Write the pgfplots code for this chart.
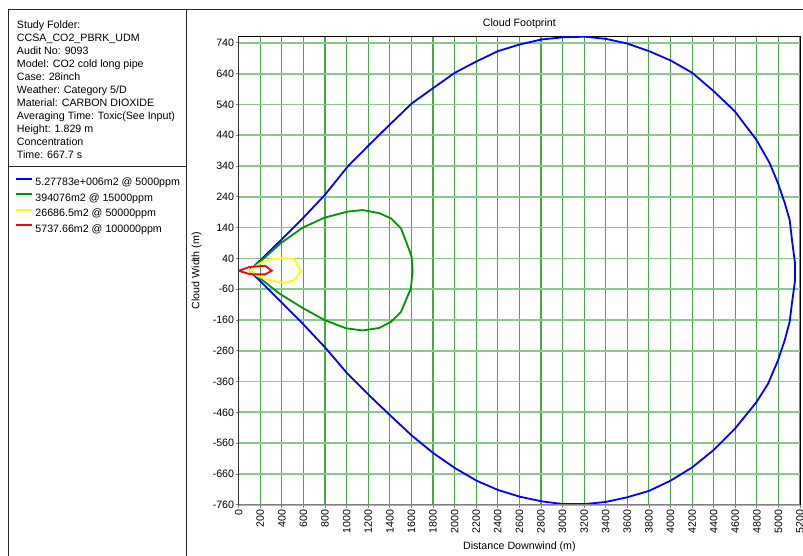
\documentclass[border=0pt]{standalone}
\usepackage{fontspec}
\setmainfont{Liberation Sans}
\usepackage{pgfplots}
\pgfplotsset{compat=1.18}
\definecolor{gridx}{RGB}{70,170,70}
\definecolor{gridy}{RGB}{140,200,140}
\definecolor{cgreen}{RGB}{0,150,0}
\definecolor{cyellow}{RGB}{255,255,0}
\begin{document}
\fontsize{8}{9.75}\selectfont
\begin{tikzpicture}[x=0.75pt,y=-0.75pt,font=\fontsize{8}{9.75}\selectfont]
\path[use as bounding box] (0,0) rectangle (803,556);
\draw[line width=0.75pt, black!85] (8,10) -- (803,10) (8,10) -- (8,556) (186,10) -- (186,556) (8,167) -- (186,167);
\foreach \t [count=\i from 0] in {{Study Folder:},{CCSA\_CO2\_PBRK\_UDM},{Audit No: 9093},{Model: CO2 cold long pipe},{Case: 28inch},{Weather: Category 5/D},{Material: CARBON DIOXIDE},{Averaging Time: Toxic(See Input)},{Height: 1.829 m},{Concentration},{Time: 667.7 s}}
  \node[anchor=base west, inner sep=0pt] at (16.7, 28.8+13*\i) {\t};
\begin{axis}[
  at={(179.03pt,-378.53pt)}, anchor=south west,
  scale only axis, width=421pt, height=351pt,
  xmin=0, xmax=5200, ymin=-760, ymax=760,
  xtick={0,200,...,5200}, ytick={-760,-660,...,740},
  grid=major,
  x grid style={gridx, line width=0.85pt},
  y grid style={gridy, line width=1.3pt},
  axis line style={black, line width=0.75pt},
  tick style={gray, line width=0.6pt},
  major tick length=2.25pt, tick align=outside, tick pos=left,
  /pgf/number format/1000 sep={},
  /pgf/number format/assume math mode=true,
  ticklabel style={font=\fontsize{8}{9}\selectfont},
  xticklabel style={rotate=90, anchor=east, inner sep=1pt},
  yticklabel style={inner sep=1pt},
  title={Cloud Footprint},
  title style={at={(axis description cs:0.5,1.0314)}, anchor=center, yshift=-7.5pt, font=\fontsize{8}{9}\selectfont},
  xlabel={Distance Downwind (m)},
  xlabel style={at={(axis description cs:0.5,-0.0897)}, anchor=center, font=\fontsize{8}{9}\selectfont},
  ylabel={Cloud Width (m)},
  ylabel style={at={(axis description cs:-0.0748,0.5)}, anchor=center, rotate=0, font=\fontsize{8}{9}\selectfont},
  legend style={at={(axis description cs:-0.3985,0.6992)}, anchor=north west, draw=none, fill=none,
    inner sep=0pt, outer sep=0pt, row sep=3.7pt, font=\fontsize{8}{9}\selectfont,
    nodes={inner xsep=0pt, inner ysep=0pt, text height=6.2pt, text depth=1.7pt},
    /tikz/every odd column/.append style={column sep=1.8pt}},
  legend cell align=left,
  legend image code/.code={\draw[#1, line width=1.5pt] (0pt,2.8pt) -- (12pt,2.8pt);},
]
\addplot[color=blue, line width=1.35pt] coordinates {
(100,0) (200,34) (376,94) (593,170) (793,244) (1009,338) (1209,409) (1404,476) (1602,543) (1805,594) (2003,643) (2204,680) (2401,713) (2605,735) (2806,751) (3006,758) (3206,760) (3401,753) (3598,738) (3802,713) (4000,683) (4200,643) (4394,585) (4595,518) (4796,425) (4919,349) (4996,284) (5058,220) (5104,165) (5129,89) (5154,24) (5154,-31) (5129,-96) (5104,-166) (5058,-226) (4996,-291) (4904,-367) (4796,-427) (4595,-514) (4394,-584) (4200,-639) (4000,-682) (3802,-715) (3598,-736) (3401,-751) (3206,-758) (3006,-758) (2806,-749) (2605,-734) (2401,-712) (2204,-682) (2003,-641) (1805,-593) (1602,-535) (1404,-470) (1209,-405) (1009,-335) (802,-250) (593,-172) (376,-96) (200,-34) (100,0)};
\addplot[color=cgreen, line width=1.35pt] coordinates {
(100,0) (200,30) (392,90) (593,140) (793,172) (1009,192) (1148,197) (1302,187) (1410,170) (1503,138) (1580,67) (1602,45) (1611,0) (1595,-58) (1503,-134) (1410,-166) (1302,-186) (1148,-194) (994,-187) (793,-160) (593,-121) (376,-74) (200,-25) (100,0)};
\addplot[color=cyellow, line width=1.35pt] coordinates {
(100,0) (197,24) (290,37) (383,40) (469,40) (515,37) (577,0) (515,-31) (413,-39) (290,-31) (176,-18) (100,0)};
\addplot[color=red, line width=1.35pt] coordinates {
(0,0) (100,12) (245,16) (305,0) (245,-12) (100,-11) (0,0)};
\legend{5.27783e+006m2 @ 5000ppm, 394076m2 @ 15000ppm, 26686.5m2 @ 50000ppm, 5737.66m2 @ 100000ppm}
\draw[gray, line width=0.75pt] (rel axis cs:0,0) -- (rel axis cs:0,1);
\draw[gray, line width=0.75pt] (rel axis cs:0,0) -- (rel axis cs:1,0);
\end{axis}
\end{tikzpicture}
\end{document}
